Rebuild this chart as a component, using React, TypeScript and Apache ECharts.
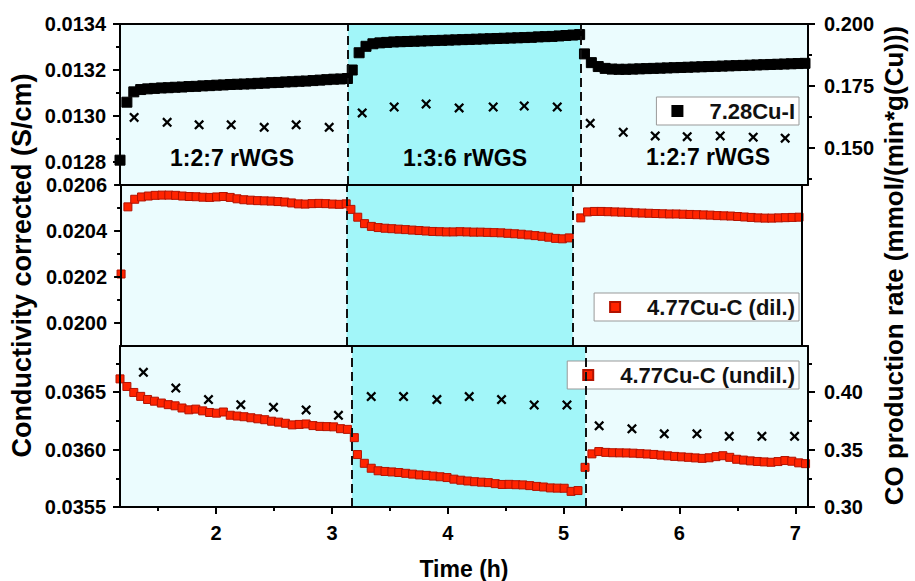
import React, { useEffect, useRef } from "react";
import * as echarts from "echarts";

// ---------- data ----------
const SAMPLE_STEP = 0.0595; // h between conductivity readings

// 7.28Cu-I conductivity (S/cm), three gas phases
const cond728Start = [1.17, 3.175, 5.18];
const cond728Seg1 = [0.012808, 0.01306, 0.013105, 0.013115, 0.013118, 0.01312, 0.013122, 0.013123, 0.013125, 0.013126,
  0.013128, 0.013129, 0.013131, 0.013132, 0.013134, 0.013135, 0.013137, 0.013138, 0.013139, 0.01314,
  0.013142, 0.013143, 0.013145, 0.013146, 0.013148, 0.013149, 0.013151, 0.013152, 0.013154, 0.013156,
  0.013158, 0.01316, 0.013161, 0.013163];
const cond728Seg2 = [0.0132, 0.013275, 0.013303, 0.013314, 0.013318, 0.01332, 0.013322, 0.013323, 0.013324, 0.013325,
  0.013326, 0.013327, 0.013328, 0.013329, 0.01333, 0.013331, 0.013332, 0.013333, 0.013334, 0.013335,
  0.013336, 0.013337, 0.013338, 0.013339, 0.01334, 0.013341, 0.013342, 0.013344, 0.013345, 0.013346,
  0.013348, 0.01335, 0.013352, 0.013354];
const cond728Seg3 = [0.01327, 0.013232, 0.013215, 0.013207, 0.013204, 0.013203, 0.013203, 0.013204, 0.013205, 0.013206,
  0.013207, 0.013208, 0.013209, 0.01321, 0.013211, 0.013212, 0.013213, 0.013214, 0.013215, 0.013216,
  0.013217, 0.013218, 0.013219, 0.01322, 0.013221, 0.013222, 0.013223, 0.013224, 0.013225, 0.013226,
  0.013227, 0.013228, 0.013229];

// 4.77Cu-C (dil.) conductivity
const condDilStart = [1.17, 3.175, 5.18];
const condDilSeg1 = [0.020213, 0.020505, 0.020538, 0.020548, 0.020552, 0.020555, 0.020556, 0.020556, 0.020555, 0.020552,
  0.02055, 0.020549, 0.020547, 0.020546, 0.020548, 0.02055, 0.020546, 0.02054, 0.020536, 0.020534,
  0.020532, 0.020531, 0.02053, 0.020528, 0.020526, 0.020522, 0.020518, 0.020517, 0.020519, 0.02052,
  0.020519, 0.020517, 0.020516, 0.020518];
const condDilSeg2 = [0.020494, 0.02046, 0.020432, 0.02042, 0.020415, 0.020412, 0.02041, 0.020408, 0.020406, 0.020404,
  0.020402, 0.0204, 0.020398, 0.020397, 0.020396, 0.020396, 0.020397, 0.020396, 0.020395, 0.020395,
  0.020394, 0.020393, 0.020392, 0.02039, 0.020388, 0.020386, 0.020383, 0.02038, 0.020377, 0.020373,
  0.020368, 0.020366, 0.02037];
const condDilSeg3 = [0.020457, 0.020483, 0.020485, 0.020485, 0.020484, 0.020483, 0.020482, 0.020481, 0.020479, 0.020478,
  0.020477, 0.020476, 0.020475, 0.020474, 0.020474, 0.020473, 0.020472, 0.020471, 0.02047, 0.020469,
  0.020467, 0.020466, 0.020465, 0.020463, 0.020461, 0.020459, 0.020457, 0.020456, 0.020456, 0.020457,
  0.020458, 0.020459, 0.02046];

// 4.77Cu-C (undil.) conductivity
const condUndilStart = [1.17, 3.22, 5.185];
const condUndilSeg1 = [0.036614, 0.036548, 0.036496, 0.036462, 0.036435, 0.03642, 0.036404, 0.03639, 0.03638, 0.036361,
  0.036345, 0.036351, 0.036336, 0.036322, 0.036316, 0.036326, 0.036298, 0.036291, 0.036285, 0.036276,
  0.036267, 0.036259, 0.036246, 0.036238, 0.036228, 0.036214, 0.036218, 0.036222, 0.036208, 0.036201,
  0.036199, 0.036197, 0.036181, 0.036175, 0.036103];
const condUndilSeg2 = [0.035956, 0.03588, 0.035837, 0.035815, 0.035809, 0.035805, 0.0358, 0.035793, 0.035786, 0.035779,
  0.035775, 0.035769, 0.035763, 0.035756, 0.035742, 0.035733, 0.035726, 0.03572, 0.035716, 0.035712,
  0.035703, 0.035696, 0.035697, 0.035694, 0.035692, 0.035686, 0.035679, 0.035674, 0.035666, 0.035664,
  0.035663, 0.035636, 0.035643];
const condUndilSeg3 = [0.035845, 0.035962, 0.035982, 0.035975, 0.035972, 0.035971, 0.03597, 0.035968, 0.035964, 0.035961,
  0.035957, 0.035951, 0.035945, 0.03594, 0.035936, 0.035932, 0.035927, 0.035923, 0.035928, 0.035938,
  0.035946, 0.035932, 0.035915, 0.035908, 0.035901, 0.035896, 0.035892, 0.035889, 0.035895, 0.035904,
  0.035898, 0.035884, 0.035877];

// CO production rate (mmol/(min*g(Cu)))
const co728Times = [1.292, 1.577, 1.853, 2.13, 2.415, 2.691, 2.976, 3.261, 3.537, 3.813, 4.098, 4.392, 4.66, 4.945,
  5.23, 5.515, 5.791, 6.067, 6.352, 6.637, 6.913];
const co728Rates = [0.1623, 0.1603, 0.1593, 0.1593, 0.1583, 0.1593, 0.1583, 0.1641, 0.1665, 0.1677, 0.1661, 0.1665, 0.1669, 0.1665,
  0.1599, 0.1563, 0.1548, 0.1545, 0.1548, 0.1543, 0.1539];
const coUndilTimes = [1.372, 1.652, 1.934, 2.213, 2.495, 2.777, 3.056, 3.339, 3.618, 3.906, 4.185, 4.464, 4.746, 5.029,
  5.307, 5.59, 5.869, 6.151, 6.43, 6.712, 6.994];
const coUndilRates = [0.4171, 0.4034, 0.3934, 0.389, 0.3867, 0.3844, 0.3797, 0.396, 0.396, 0.3934, 0.396, 0.3934, 0.3887, 0.3887,
  0.3706, 0.368, 0.3636, 0.3636, 0.3615, 0.3615, 0.3615];

// gas switch times (h) per panel
const switchTop = [3.138, 5.147];
const switchMid = [3.138, 5.109];
const switchBot = [3.174, 5.187];
const phaseLabels = ["1:2:7 rWGS", "1:3:6 rWGS", "1:2:7 rWGS"];

// ticks
const timeTicks = [2, 3, 4, 5, 6, 7];
const timeMinor = [1.5, 2.5, 3.5, 4.5, 5.5, 6.5];
const topLeftTicks = [0.0128, 0.013, 0.0132, 0.0134];
const topLeftMinor = [0.0129, 0.0131, 0.0133];
const topRightTicks = [0.15, 0.175, 0.2];
const topRightMinor = [0.1375, 0.1625, 0.1875];
const midLeftTicks = [0.02, 0.0202, 0.0204, 0.0206];
const midLeftMinor = [0.0201, 0.0203, 0.0205];
const botLeftTicks = [0.0355, 0.036, 0.0365];
const botLeftMinor = [0.03575, 0.03625, 0.03675];
const botRightTicks = [0.3, 0.35, 0.4];
const botRightMinor = [0.325, 0.375, 0.425];

// ---------- helpers ----------
const FONT = "'Liberation Sans', Arial, Helvetica, sans-serif";
const LIGHT = "#ebfcfe";
const BRIGHT = "#a2f6f9";
const RED = "#ff2400";
const RED_EDGE = "#b31200";
const CROSS = "path://M0,1.6L1.6,0L5,3.4L8.4,0L10,1.6L6.6,5L10,8.4L8.4,10L5,6.6L1.6,10L0,8.4L3.4,5Z";
const SQUARE = "path://M0,0L10,0L10,10L0,10Z";
const AXIS_LINE = { show: true, onZero: false, lineStyle: { color: "#000", width: 2 } };

function segments(starts: number[], segs: number[][]) {
  const out: number[][] = [];
  segs.forEach((vals, s) => vals.forEach((v, i) => out.push([starts[s] + i * SAMPLE_STEP, v])));
  return out;
}
const pairs = (t: number[], v: number[]) => t.map((x, i) => [x, v[i]]);

const X_MIN = 1.17;
const X_MAX = 7.11;

function xAxisFor(grid: number, visible: boolean) {
  return {
    type: "value", gridIndex: grid, min: X_MIN, max: X_MAX, position: "bottom", z: 10,
    axisLine: AXIS_LINE, splitLine: { show: false },
    axisTick: { show: visible, customValues: timeTicks, length: 7, lineStyle: { color: "#000", width: 2 } },
    axisLabel: { show: visible, customValues: timeTicks, margin: 16, fontSize: 20, fontWeight: "bold", color: "#000", fontFamily: FONT },
  };
}
function xTopFor(grid: number) {
  return {
    type: "value", gridIndex: grid, min: X_MIN, max: X_MAX, position: "top", z: 10,
    axisLine: AXIS_LINE, splitLine: { show: false }, axisTick: { show: false }, axisLabel: { show: false },
  };
}

function yAxisFor(grid: number, pos: string, min: number, max: number, ticks: number[], digits: number, major: boolean, extra: any = {}) {
  return {
    type: "value", gridIndex: grid, position: pos, min, max, z: 10,
    axisLine: major ? AXIS_LINE : { show: false }, splitLine: { show: false },
    axisTick: { show: ticks.length > 0, customValues: ticks, length: major ? 7 : 4, lineStyle: { color: "#000", width: 2 } },
    axisLabel: {
      show: major && ticks.length > 0, customValues: ticks, margin: pos === "left" ? 14 : 16,
      fontSize: 20, fontWeight: "bold", color: "#000", fontFamily: FONT,
      formatter: (v: number) => v.toFixed(digits),
    },
    ...extra,
  };
}

function phaseMarks(sw: number[]) {
  return {
    markArea: { silent: true, itemStyle: { color: BRIGHT, opacity: 1 }, data: [[{ xAxis: sw[0] }, { xAxis: sw[1] }]] },
    markLine: {
      silent: true, symbol: "none", label: { show: false },
      lineStyle: { color: "#111", type: [9, 5], width: 2, opacity: 1 },
      data: sw.map((x) => ({ xAxis: x })),
    },
  };
}

function legendFor(name: string, top: number) {
  return {
    data: [name], right: 116, top, orient: "horizontal", selectedMode: false,
    icon: SQUARE, itemWidth: 54, itemHeight: 10, itemGap: 0,
    padding: [3, 4, 3, 15], backgroundColor: "#fff", borderColor: "#999", borderWidth: 1,
    textStyle: { fontSize: 22, fontWeight: "bold", color: "#111", fontFamily: FONT },
  };
}

export default function App() {
  const ref = useRef<HTMLDivElement>(null);
  useEffect(() => {
    if (!ref.current) return;
    const chart = echarts.init(ref.current, null, { renderer: "svg" });
    const gridBase = { left: 120, right: 107, height: 161, show: true, backgroundColor: LIGHT, borderWidth: 0 };
    const squareBlack = { color: "#000", borderColor: "#000", borderWidth: 1, opacity: 1 };
    const squareRed = { color: RED, borderColor: RED_EDGE, borderWidth: 1, opacity: 1 };
    const cross = { color: "#000", opacity: 1 };
    const option: any = {
      animation: false,
      backgroundColor: "#fff",
      textStyle: { fontFamily: FONT },
      grid: [
        { ...gridBase, top: 24 },
        { ...gridBase, top: 185 },
        { ...gridBase, top: 346 },
      ],
      xAxis: [
        xAxisFor(0, false),
        xAxisFor(1, false),
        {
          ...xAxisFor(2, true), name: "Time (h)", nameLocation: "middle", nameGap: 50,
          nameTextStyle: { fontSize: 23, fontWeight: "bold", color: "#000", fontFamily: FONT },
        },
        {
          type: "value", gridIndex: 2, min: X_MIN, max: X_MAX, position: "bottom", z: 10,
          axisLine: { show: false, onZero: false }, splitLine: { show: false },
          axisTick: { customValues: timeMinor, length: 4, lineStyle: { color: "#000", width: 2 } },
          axisLabel: { show: false, customValues: timeMinor },
        },
        xTopFor(0),
        xTopFor(1),
        xTopFor(2),
      ],
      yAxis: [
        yAxisFor(0, "left", 0.0127, 0.0134, topLeftTicks, 4, true),
        yAxisFor(0, "left", 0.0127, 0.0134, topLeftMinor, 4, false),
        yAxisFor(0, "right", 0.135, 0.2, topRightTicks, 3, true),
        yAxisFor(0, "right", 0.135, 0.2, topRightMinor, 3, false),
        yAxisFor(1, "left", 0.0199, 0.0206, midLeftTicks, 4, true, {
          name: "Conductivity corrected (S/cm)", nameLocation: "middle", nameGap: 81,
          nameTextStyle: { fontSize: 27, fontWeight: "bold", color: "#000", fontFamily: FONT },
        }),
        yAxisFor(1, "left", 0.0199, 0.0206, midLeftMinor, 4, false),
        yAxisFor(1, "right", 0, 1, [], 2, true, {
          name: "CO production rate (mmol/(min*g(Cu)))", nameLocation: "middle", nameGap: 79,
          nameTextStyle: { fontSize: 26, fontWeight: "bold", color: "#000", fontFamily: FONT },
        }),
        yAxisFor(2, "left", 0.0355, 0.0369, botLeftTicks, 4, true),
        yAxisFor(2, "left", 0.0355, 0.0369, botLeftMinor, 4, false),
        yAxisFor(2, "right", 0.3, 0.44, botRightTicks, 2, true),
        yAxisFor(2, "right", 0.3, 0.44, botRightMinor, 2, false),
      ],
      legend: [
        legendFor("7.28Cu-I", 97),
        legendFor("4.77Cu-C (dil.)", 293),
        legendFor("4.77Cu-C (undil.)", 361),
      ],
      series: [
        {
          name: "7.28Cu-I", type: "scatter", xAxisIndex: 0, yAxisIndex: 0, symbol: "rect", symbolSize: 10, clip: false,
          itemStyle: squareBlack,
          data: segments(cond728Start, [cond728Seg1, cond728Seg2, cond728Seg3]),
          ...phaseMarks(switchTop),
        },
        {
          name: "CO rate 7.28Cu-I", type: "scatter", xAxisIndex: 0, yAxisIndex: 2, symbol: CROSS, symbolSize: 10,
          itemStyle: cross, data: pairs(co728Times, co728Rates),
        },
        {
          name: "4.77Cu-C (dil.)", type: "scatter", xAxisIndex: 1, yAxisIndex: 4, symbol: "rect", symbolSize: 8, clip: false,
          itemStyle: squareRed,
          data: segments(condDilStart, [condDilSeg1, condDilSeg2, condDilSeg3]),
          ...phaseMarks(switchMid),
        },
        {
          name: "4.77Cu-C (undil.)", type: "scatter", xAxisIndex: 2, yAxisIndex: 7, symbol: "rect", symbolSize: 8, clip: false,
          itemStyle: squareRed,
          data: segments(condUndilStart, [condUndilSeg1, condUndilSeg2, condUndilSeg3]),
          ...phaseMarks(switchBot),
        },
        {
          name: "CO rate 4.77Cu-C (undil.)", type: "scatter", xAxisIndex: 2, yAxisIndex: 9, symbol: CROSS, symbolSize: 10,
          itemStyle: cross, data: pairs(coUndilTimes, coUndilRates),
        },
      ],
      graphic: [
        { type: "text", z: 50, x: 232, y: 158, style: { text: phaseLabels[0], font: `bold 23px ${FONT}`, fill: "#000", align: "center", verticalAlign: "middle" } },
        { type: "text", z: 50, x: 465, y: 158, style: { text: phaseLabels[1], font: `bold 23px ${FONT}`, fill: "#000", align: "center", verticalAlign: "middle" } },
        { type: "text", z: 50, x: 708, y: 157, style: { text: phaseLabels[2], font: `bold 23px ${FONT}`, fill: "#000", align: "center", verticalAlign: "middle" } },
      ],
    };
    chart.setOption(option);
    return () => chart.dispose();
  }, []);
  return <div ref={ref} style={{ position: "fixed", left: 0, top: 0, width: 915, height: 581 }} />;
}
